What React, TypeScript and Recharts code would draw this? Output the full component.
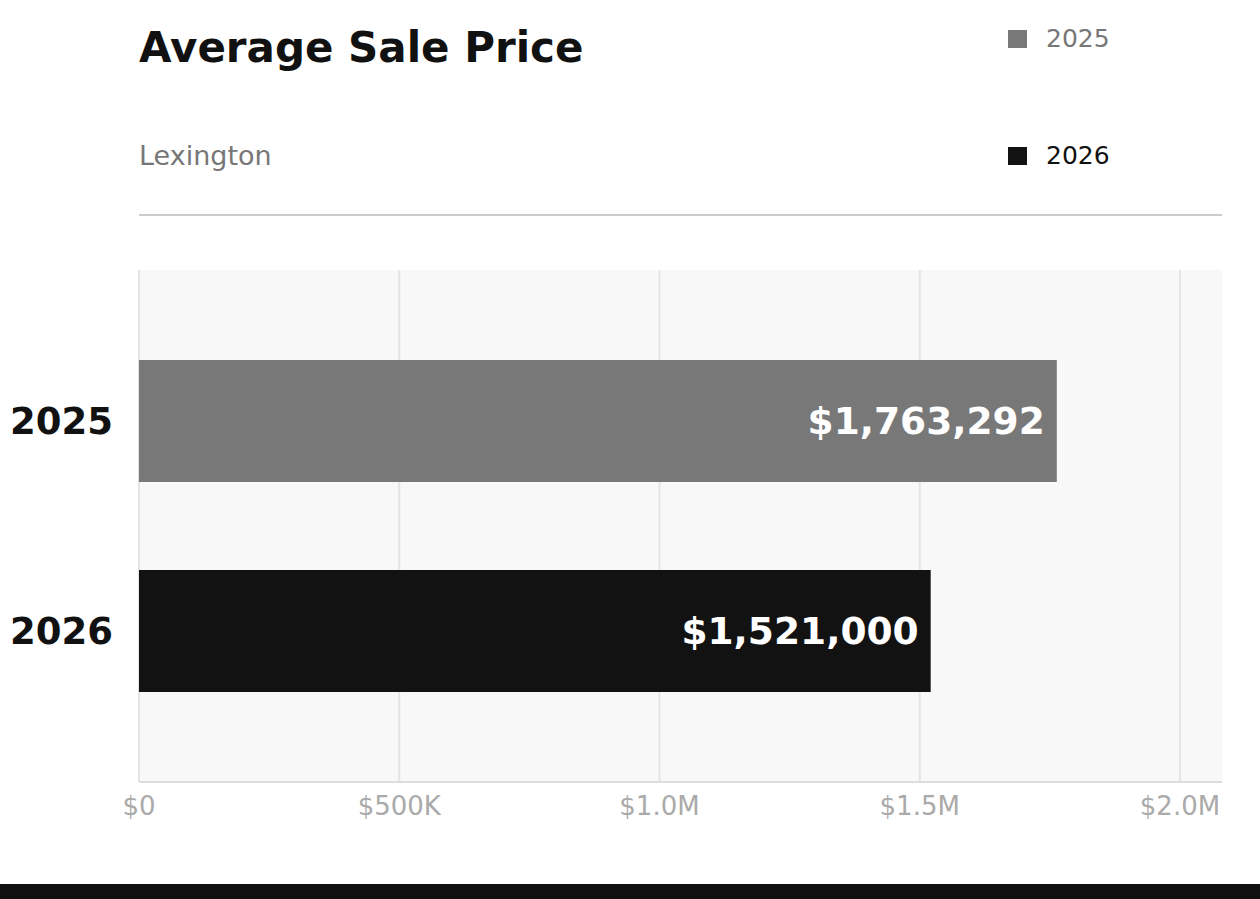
import React from "react";
import {
  BarChart,
  Bar,
  Cell,
  XAxis,
  YAxis,
  CartesianGrid,
  LabelList,
} from "recharts";

const years = ["2025", "2026"];
const salePrices = [1763292, 1521000];
const barColors = ["#787878", "#121212"];
const priceTicks = [0, 500000, 1000000, 1500000, 2000000];

const data = years.map((year, i) => ({ year, price: salePrices[i] }));

const FONT = "'DejaVu Sans', sans-serif";

const formatTick = (v: number) => {
  if (v === 0) return "$0";
  if (v < 1000000) return `$${Math.round(v / 1000)}K`;
  return `$${(v / 1000000).toFixed(1)}M`;
};

const formatPrice = (v: any) => `$${Number(v).toLocaleString("en-US")}`;

const App = () => {
  return (
    <div
      style={{
        position: "fixed",
        left: 0,
        top: 0,
        width: 1260,
        height: 899,
        background: "#fff",
        fontFamily: FONT,
        overflow: "hidden",
      }}
    >
      <div
        style={{
          position: "absolute",
          left: 139,
          top: 27,
          fontSize: 42,
          lineHeight: 1,
          fontWeight: 700,
          color: "#111",
          whiteSpace: "nowrap",
        }}
      >
        Average Sale Price
      </div>
      <div
        style={{
          position: "absolute",
          left: 139,
          top: 142,
          fontSize: 27,
          lineHeight: 1,
          color: "#777",
        }}
      >
        Lexington
      </div>

      {/* legend */}
      {years.map((y, i) => (
        <div key={y}>
          <div
            style={{
              position: "absolute",
              left: 1008,
              top: i === 0 ? 30 : 147,
              width: 19,
              height: 18,
              background: barColors[i],
            }}
          />
          <div
            style={{
              position: "absolute",
              left: 1046,
              top: i === 0 ? 26 : 143,
              fontSize: 25,
              lineHeight: 1,
              color: i === 0 ? "#777" : "#111",
            }}
          >
            {y}
          </div>
        </div>
      ))}

      <div
        style={{
          position: "absolute",
          left: 139,
          top: 214,
          width: 1083,
          height: 2,
          background: "#cccccc",
        }}
      />

      <div style={{ position: "absolute", left: 0, top: 0 }}>
        <BarChart
          width={1260}
          height={899}
          data={data}
          layout="vertical"
          margin={{ top: 270, right: 38, bottom: 77, left: 0 }}
        >
          {/* grid lines only at the price ticks, not at the domain end */}
          <CartesianGrid
            horizontal={false}
            verticalValues={priceTicks}
            syncWithTicks
            stroke="#e4e4e4"
            strokeWidth={2}
            fill="#f8f8f8"
          />
          <XAxis
            type="number"
            domain={[0, 2080685]}
            ticks={priceTicks}
            tickFormatter={formatTick}
            height={40}
            axisLine={{ stroke: "#dddddd", strokeWidth: 2 }}
            tickLine={false}
            tickMargin={9}
            tick={{ fill: "#aaaaaa", fontSize: 26, fontFamily: FONT }}
          />
          <YAxis
            type="category"
            dataKey="year"
            width={139}
            padding={{ top: 46, bottom: 46 }}
            axisLine={false}
            tickLine={false}
            tickMargin={20}
            tick={{
              fill: "#111",
              fontSize: 37,
              fontWeight: 700,
              fontFamily: FONT,
            }}
          />
          <Bar dataKey="price" barSize={122} isAnimationActive={false}>
            {data.map((d, i) => (
              <Cell key={d.year} fill={barColors[i]} />
            ))}
            <LabelList
              dataKey="price"
              position="insideRight"
              offset={12}
              formatter={formatPrice}
              fill="#ffffff"
              style={{ fontSize: 37.5, fontWeight: 700, fontFamily: FONT }}
            />
          </Bar>
        </BarChart>
      </div>

      <div
        style={{
          position: "absolute",
          left: 0,
          top: 884,
          width: 1260,
          height: 15,
          background: "#111",
        }}
      />
    </div>
  );
};

export default App;
